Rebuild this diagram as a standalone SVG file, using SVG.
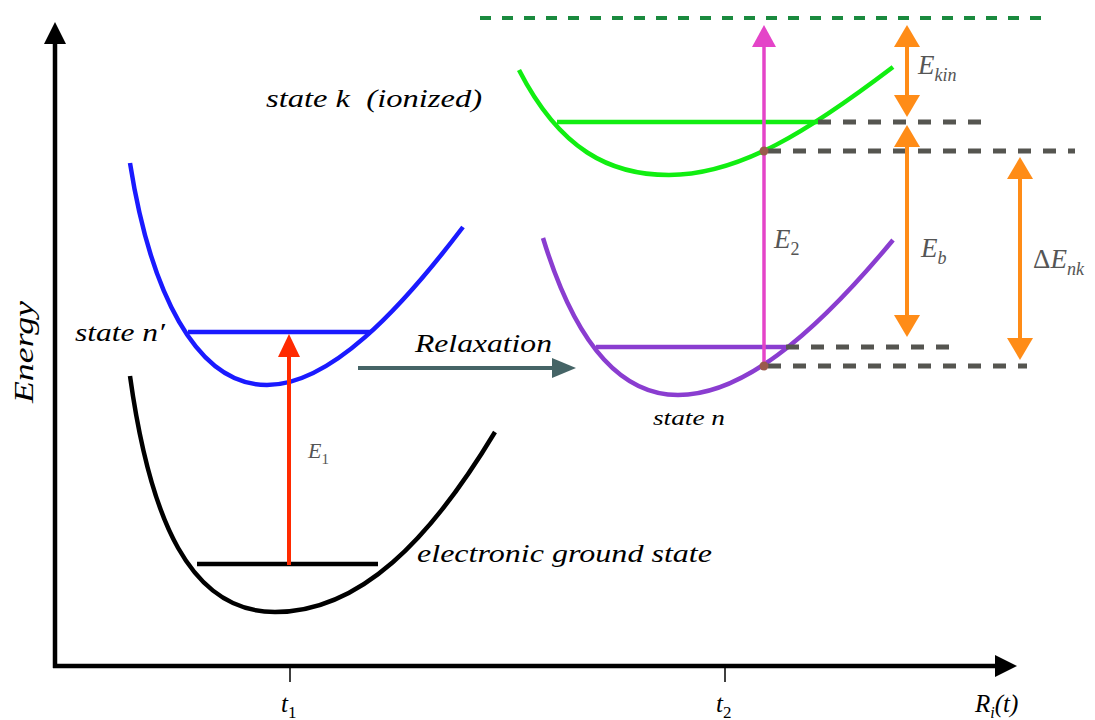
<svg xmlns="http://www.w3.org/2000/svg" width="1095" height="720" viewBox="0 0 1095 720" font-family="Liberation Serif, Times New Roman, serif" font-style="italic">
<style>
.t{fill:#000;font-size:25px}
.g{fill:#555;font-size:27px}
.curve{fill:none;stroke-width:4.5;stroke-linecap:butt}
.gd{fill:none;stroke:#555550;stroke-width:5;stroke-dasharray:13 12}
</style>
<defs>
<marker id="mBlack" markerUnits="userSpaceOnUse" markerWidth="22" markerHeight="22" viewBox="0 0 22 22" refX="0" refY="11" orient="auto"><path d="M0,0 L22,11 L0,22 z" fill="#000"/></marker>
<marker id="mRed" markerUnits="userSpaceOnUse" markerWidth="23" markerHeight="22" viewBox="0 0 23 22" refX="0" refY="11" orient="auto"><path d="M0,0 L23,11 L0,22 z" fill="#ff2a00"/></marker>
<marker id="mMag" markerUnits="userSpaceOnUse" markerWidth="22" markerHeight="24" viewBox="0 0 22 24" refX="0" refY="12" orient="auto"><path d="M0,0 L22,12 L0,24 z" fill="#e444c8"/></marker>
<marker id="mSlate" markerUnits="userSpaceOnUse" markerWidth="24" markerHeight="20" viewBox="0 0 24 20" refX="0" refY="10" orient="auto"><path d="M0,0 L24,10 L0,20 z" fill="#456466"/></marker>
<marker id="mOr" markerUnits="userSpaceOnUse" markerWidth="22" markerHeight="26" viewBox="0 0 22 26" refX="0" refY="13" orient="auto-start-reverse"><path d="M0,0 L22,13 L0,26 z" fill="#ff8c17"/></marker>
</defs>

<g id="axes">
<line x1="55" y1="668" x2="55" y2="44" stroke="#000" stroke-width="4.5" marker-end="url(#mBlack)"/>
<line x1="53" y1="666" x2="995" y2="666" stroke="#000" stroke-width="4.5" marker-end="url(#mBlack)"/>
<line x1="290" y1="666" x2="290" y2="682" stroke="#000" stroke-width="1.5"/>
<line x1="725" y1="666" x2="725" y2="682" stroke="#000" stroke-width="1.5"/>
<text x="33" y="352" class="t" text-anchor="middle" transform="rotate(-90 33 352)" style="font-size:27px" textLength="102" lengthAdjust="spacingAndGlyphs">Energy</text>
<text x="281" y="712" class="t">t<tspan dy="6" font-size="17" font-style="normal">1</tspan></text>
<text x="716" y="712" class="t">t<tspan dy="6" font-size="17" font-style="normal">2</tspan></text>
<text x="975" y="712" class="t">R<tspan dy="6" font-size="16">i</tspan><tspan dy="-6">(t)</tspan></text>
</g>

<g id="ground-state">
<path class="curve" stroke="#000" d="M130,376 C150,520 190,612 275,612 C360,612 430,540 495,432"/>
<line x1="197" y1="564" x2="378" y2="564" stroke="#000" stroke-width="4.5"/>
<text x="417" y="562" class="t" textLength="295" lengthAdjust="spacingAndGlyphs">electronic ground state</text>
</g>

<g id="state-n-prime">
<path class="curve" stroke="#1a1aff" d="M130,163 C150,290 195,385 267,385 C330,385 400,310 463,227"/>
<line x1="188" y1="332" x2="371" y2="332" stroke="#1a1aff" stroke-width="4.5"/>
<text x="75" y="341" class="t" textLength="90" lengthAdjust="spacingAndGlyphs">state n′</text>
</g>

<g id="state-n">
<path class="curve" stroke="#8a3dd0" d="M543,238 C568,320 608,395 678,395 C740,395 810,340 893,240"/>
<line x1="596" y1="347" x2="786" y2="347" stroke="#8a3dd0" stroke-width="4.5"/>
<text x="653" y="425" class="t" style="font-size:21px" textLength="72" lengthAdjust="spacingAndGlyphs">state n</text>
</g>

<g id="state-k">
<path class="curve" stroke="#11ee11" d="M519,70 C560,150 610,175 669,175 C740,175 810,130 893,67"/>
<line x1="557" y1="122" x2="818" y2="122" stroke="#11ee11" stroke-width="4.5"/>
<text x="266" y="107" class="t" xml:space="preserve" textLength="216" lengthAdjust="spacingAndGlyphs">state k  (ionized)</text>
</g>

<g id="connectors">
<line x1="480" y1="18" x2="1048" y2="18" stroke="#1a8a3e" stroke-width="4" stroke-dasharray="11 11"/>
<line class="gd" x1="818" y1="122" x2="991" y2="122"/>
<line class="gd" x1="768" y1="151" x2="1075" y2="151"/>
<line class="gd" x1="786" y1="347" x2="960" y2="347"/>
<line class="gd" x1="768" y1="366" x2="1027" y2="366"/>
<line x1="289" y1="565" x2="289" y2="357" stroke="#ff2a00" stroke-width="4" marker-end="url(#mRed)"/>
<line x1="764" y1="366" x2="764" y2="47" stroke="#e444c8" stroke-width="3.5" marker-end="url(#mMag)"/>
<line x1="358" y1="368" x2="552" y2="368" stroke="#456466" stroke-width="4" marker-end="url(#mSlate)"/>
<line x1="907" y1="47" x2="907" y2="95" stroke="#ff8c17" stroke-width="4" marker-start="url(#mOr)" marker-end="url(#mOr)"/>
<line x1="907" y1="147" x2="907" y2="315" stroke="#ff8c17" stroke-width="4" marker-start="url(#mOr)" marker-end="url(#mOr)"/>
<line x1="1020" y1="179" x2="1020" y2="338" stroke="#ff8c17" stroke-width="4" marker-start="url(#mOr)" marker-end="url(#mOr)"/>
<circle cx="764" cy="151" r="4.5" fill="#9a5a4c"/>
<circle cx="764" cy="366" r="4.5" fill="#9a5a4c"/>
<text x="308" y="458" class="g" style="font-size:22px">E<tspan dy="6" font-size="15" font-style="normal">1</tspan></text>
<text x="774" y="248" class="g">E<tspan dy="7" font-size="18" font-style="normal">2</tspan></text>
<text x="918" y="74" class="g">E<tspan dy="7" font-size="18">kin</tspan></text>
<text x="921" y="257" class="g">E<tspan dy="7" font-size="18">b</tspan></text>
<text x="1033" y="268" class="g"><tspan font-style="normal">Δ</tspan>E<tspan dy="7" font-size="18">nk</tspan></text>
<text x="415" y="352" class="t" textLength="137" lengthAdjust="spacingAndGlyphs">Relaxation</text>
</g>
</svg>
